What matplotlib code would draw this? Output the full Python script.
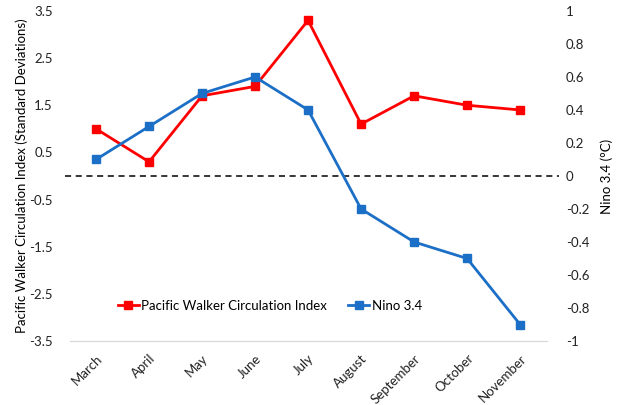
import matplotlib
matplotlib.use('Agg')
import matplotlib.pyplot as plt

months = ['March', 'April', 'May', 'June', 'July', 'August', 'September', 'October', 'November']
pwc = [1.0, 0.3, 1.7, 1.9, 3.3, 1.1, 1.7, 1.5, 1.4]
nino = [0.1, 0.3, 0.5, 0.6, 0.4, -0.2, -0.4, -0.5, -0.9]
left_ticks = [-3.5, -2.5, -1.5, -0.5, 0.5, 1.5, 2.5, 3.5]
right_ticks = [-1, -0.8, -0.6, -0.4, -0.2, 0, 0.2, 0.4, 0.6, 0.8, 1]

plt.rcParams['font.family'] = ['Lato', 'DejaVu Sans']
plt.rcParams['font.size'] = 9.5

fig = plt.figure(figsize=(6.18, 4.05), dpi=100)
ax = fig.add_axes([0.1125, 0.158, 0.772, 0.815])
ax2 = ax.twinx()

x = range(len(months))
l1, = ax.plot(x, pwc, color='#FF0000', lw=2, marker='s', ms=6, label='Pacific Walker Circulation Index')
l2, = ax2.plot(x, nino, color='#1C6FC6', lw=2, marker='s', ms=6, label='Nino 3.4')

ax.set_ylim(-3.5, 3.5)
ax2.set_ylim(-1, 1)
ax.set_xlim(-0.5, len(months) - 0.5)
ax.set_yticks(left_ticks)
ax.set_yticklabels([f'{t:g}' for t in left_ticks])
ax2.set_yticks(right_ticks)
ax2.set_yticklabels([f'{t:g}' for t in right_ticks])
ax.set_xticks(list(x))
ax.set_xticklabels(months, rotation=45, ha='right', rotation_mode='anchor')

# zero reference line
ax.plot([-0.01, 1.025], [0.5, 0.5], transform=ax.transAxes, color='black', lw=1.1, ls=(0, (4, 3)), clip_on=False, zorder=1)

for a in (ax, ax2):
    for s in ['top', 'left', 'right']:
        a.spines[s].set_visible(False)
    a.spines['bottom'].set_color('#d9d9d9')
    a.tick_params(length=0, colors='#222222')
ax.tick_params(axis='y', pad=12)
ax2.tick_params(axis='y', pad=14)
ax.tick_params(axis='x', pad=8)

ax.set_ylabel('Pacific Walker Circulation Index (Standard Deviations)', fontsize=9.5, labelpad=1)
ax2.set_ylabel('Nino 3.4 (°C)', fontsize=9.5, labelpad=8)

ax.legend(handles=[l1, l2], ncol=2, frameon=False, loc='center', bbox_to_anchor=(0.42, 0.106),
          handlelength=1.6, handletextpad=0.2, columnspacing=1.6, fontsize=9.5)

fig.savefig('out.png', dpi=100)
